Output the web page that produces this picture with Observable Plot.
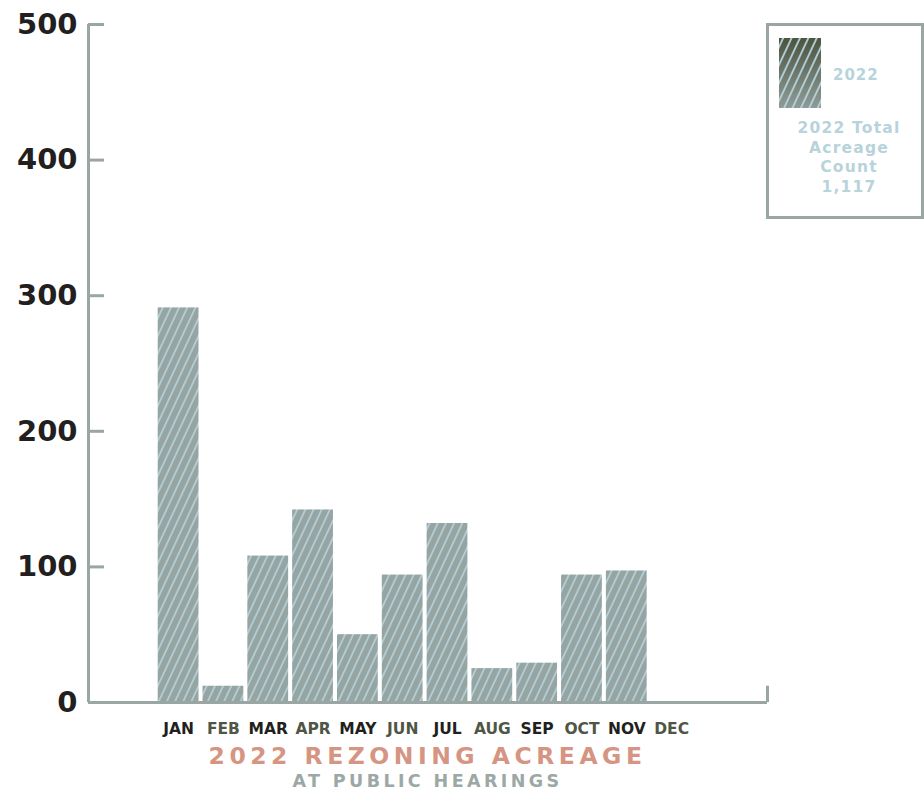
<!DOCTYPE html>
<html>
<head>
<meta charset="utf-8">
<script src="https://cdn.jsdelivr.net/npm/d3@7"></script>
<script src="https://cdn.jsdelivr.net/npm/@observablehq/plot@0.6"></script>
<style>
  html, body { margin: 0; padding: 0; background: #fff; }
  #wrap { position: relative; width: 924px; height: 794px; font-family: "DejaVu Sans", sans-serif; font-weight: bold; overflow: hidden; }
  #chart { position: absolute; left: 0; top: 0; }
  .title { position: absolute; left: 88px; width: 679px; text-align: center; white-space: nowrap; }
  #t1 { top: 742px; font-size: 23.5px; letter-spacing: 4.5px; color: #d69582; }
  #t2 { top: 771px; font-size: 17.5px; letter-spacing: 3.4px; color: #9ba8a6; }
  #legend { position: absolute; left: 766px; top: 23px; width: 158px; height: 196px; box-sizing: border-box; border: 3px solid #9aa6a4; }
  #legend svg { position: absolute; left: 10px; top: 12px; }
  #lg-year { position: absolute; left: 64px; top: 40px; font-size: 15px; letter-spacing: 1px; color: #b7d3db; }
  #lg-total { position: absolute; left: 0; width: 160px; top: 93px; text-align: center; font-size: 15.5px; line-height: 19.5px; letter-spacing: 1.2px; color: #b7d3db; }
</style>
</head>
<body>
<div id="wrap">
  <div id="chart"></div>
  <div id="t1" class="title"></div>
  <div id="t2" class="title"></div>
  <div id="legend">
    <svg width="42" height="70" viewBox="0 0 42 70">
      <defs>
        <linearGradient id="swatchFill" x1="0" y1="0" x2="0" y2="1">
          <stop offset="0" stop-color="#4c543f"/>
          <stop offset="1" stop-color="#8f9b97"/>
        </linearGradient>
        <pattern id="swatchHatch" patternUnits="userSpaceOnUse" width="7.6" height="10" patternTransform="rotate(25)">
          <line x1="3.8" y1="-1" x2="3.8" y2="11" stroke="#b3d2db" stroke-width="1.8"/>
        </pattern>
      </defs>
      <rect width="42" height="70" fill="url(#swatchFill)"/>
      <rect width="42" height="70" fill="url(#swatchHatch)"/>
    </svg>
    <div id="lg-year"></div>
    <div id="lg-total"></div>
  </div>
</div>
<script>
// Monthly rezoning acreage heard at public hearings, 2022
const months = ["JAN", "FEB", "MAR", "APR", "MAY", "JUN", "JUL", "AUG", "SEP", "OCT", "NOV", "DEC"];
const acreage = [291, 12, 108, 142, 50, 94, 132, 25, 29, 94, 97, null];
const monthColors = ["#231f20", "#4f5645", "#231f20", "#4f5645", "#231f20", "#4f5645",
                     "#231f20", "#4f5645", "#231f20", "#4f5645", "#231f20", "#4f5645"];
const yTicks = [0, 100, 200, 300, 400, 500];
const titleText = "2022 REZONING ACREAGE";
const subtitleText = "AT PUBLIC HEARINGS";
const seriesName = "2022";
const totalLines = ["2022 Total", "Acreage", "Count", "1,117"];

const rows = months.map((m, i) => ({month: m, acres: acreage[i], color: monthColors[i]}));

const W = 924, H = 742;
const mL = 88, mR = 157, mT = 24, mB = 40;
const plotW = W - mL - mR;
const axisColor = "#9aa6a4";

const chart = Plot.plot({
  width: W,
  height: H,
  marginLeft: mL,
  marginRight: mR,
  marginTop: mT,
  marginBottom: mB,
  style: {fontFamily: "DejaVu Sans, sans-serif", overflow: "visible", background: "transparent"},
  x: {domain: months, paddingInner: 0.09, paddingOuter: 1.62, align: 0.48, round: false, axis: null},
  y: {domain: [0, 500], axis: null},
  color: {type: "identity"},
  marks: [
    Plot.barY(rows, {x: "month", y: "acres", fill: "url(#barHatch)", inset: 0}),
    // baseline along the full frame
    Plot.ruleY([0], {stroke: axisColor, strokeWidth: 3}),
    // vertical axis line on the left edge of the frame
    Plot.ruleX([0], {x: null, y1: 0, y2: 500, stroke: axisColor, strokeWidth: 3, dx: -plotW / 2}),
    // short end cap at the right of the baseline
    Plot.ruleX([0], {x: null, y1: 0, y2: 12, stroke: axisColor, strokeWidth: 3, dx: plotW / 2}),
    // inward tick marks
    Plot.axisY({ticks: yTicks.slice(1), tickSize: -16, text: null, label: null, stroke: axisColor, strokeWidth: 3}),
    // tick labels
    Plot.axisY({ticks: yTicks, tickSize: 0, tickPadding: 11, fontSize: 29, fontWeight: 700, fill: "#231f20", label: null}),
    // month labels
    Plot.text(rows, {x: "month", text: "month", frameAnchor: "bottom", dy: 31, fill: "color", fontSize: 15.5, fontWeight: 700})
  ]
});

// hatched fill used by the bars
const ns = "http://www.w3.org/2000/svg";
const defs = document.createElementNS(ns, "defs");
defs.innerHTML = `
  <pattern id="barHatch" patternUnits="userSpaceOnUse" width="7.4" height="10" patternTransform="rotate(25)">
    <rect x="-1" y="-1" width="9.4" height="12" fill="#96a4a2"/>
    <line x1="3.7" y1="-1" x2="3.7" y2="11" stroke="#b2d1da" stroke-width="1.7"/>
  </pattern>`;
chart.insertBefore(defs, chart.firstChild);

document.getElementById("chart").appendChild(chart);
document.getElementById("t1").textContent = titleText;
document.getElementById("t2").textContent = subtitleText;
document.getElementById("lg-year").textContent = seriesName;
document.getElementById("lg-total").innerHTML = totalLines.map(s => `<div>${s}</div>`).join("");
</script>
</body>
</html>
